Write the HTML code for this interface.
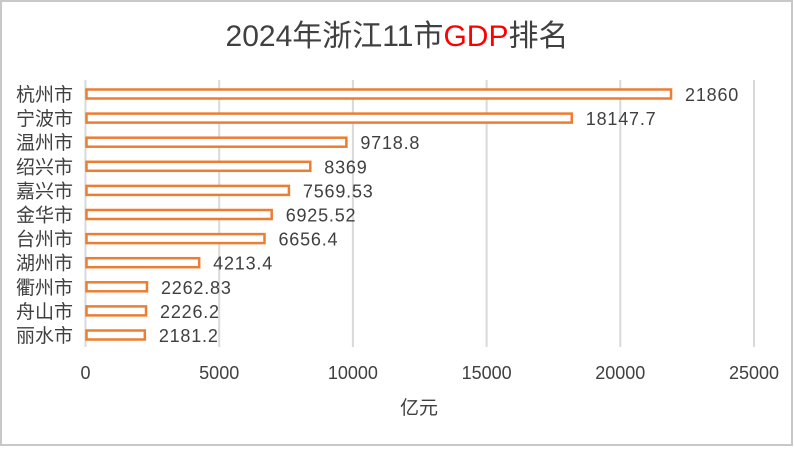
<!DOCTYPE html>
<html><head><meta charset="utf-8"><style>
html,body{margin:0;padding:0;background:#fff;}
svg{display:block;}
text{font-family:"Liberation Sans","Noto Sans CJK SC",sans-serif;fill:#404040;}
</style></head><body>
<svg width="794" height="459" viewBox="0 0 794 459">
<rect x="1" y="1" width="791" height="444" fill="#fff" stroke="#c8c8c8" stroke-width="2"/>
<text x="397" y="46" text-anchor="middle" font-size="30">2024年浙江11市<tspan style="fill:#ff0000">GDP</tspan>排名</text>
<g id="grid"></g>
<g id="bars"></g>
<text x="419" y="414" text-anchor="middle" font-size="19">亿元</text>
</svg>
<script>
const categories=["杭州市","宁波市","温州市","绍兴市","嘉兴市","金华市","台州市","湖州市","衢州市","舟山市","丽水市"];
const values=[21860,18147.7,9718.8,8369,7569.53,6925.52,6656.4,4213.4,2262.83,2226.2,2181.2];
const labels=["21860","18147.7","9718.8","8369","7569.53","6925.52","6656.4","4213.4","2262.83","2226.2","2181.2"];
const ticks=[0,5000,10000,15000,20000,25000];
const NS="http://www.w3.org/2000/svg";
const x0=85.5,x1=754,max=25000;
const xs=v=>x0+(x1-x0)*v/max;
const ys=i=>94+i*24.1;
const grid=document.getElementById('grid'),bars=document.getElementById('bars');
ticks.forEach(t=>{
 const l=document.createElementNS(NS,'line');
 l.setAttribute('x1',xs(t));l.setAttribute('x2',xs(t));l.setAttribute('y1',80);l.setAttribute('y2',347);
 l.setAttribute('stroke','#d9d9d9');l.setAttribute('stroke-width','2');
 
 
 grid.appendChild(l);
 const tx=document.createElementNS(NS,'text');
 tx.setAttribute('x',xs(t));tx.setAttribute('y',379);tx.setAttribute('text-anchor','middle');tx.setAttribute('font-size','18');
 tx.textContent=t;
 
 
 grid.appendChild(tx);
});
categories.forEach((c,i)=>{
 const y=ys(i);
 const r=document.createElementNS(NS,'rect');
 r.setAttribute('x',xs(0)+1);r.setAttribute('y',y-4.5);
 r.setAttribute('width',xs(values[i])-xs(0));r.setAttribute('height',9);
 r.setAttribute('fill','#fff');r.setAttribute('stroke','#ed7d31');r.setAttribute('stroke-width','2.5');
 
 
 bars.appendChild(r);
 const cl=document.createElementNS(NS,'text');
 cl.setAttribute('x',73);cl.setAttribute('y',y+7);cl.setAttribute('text-anchor','end');cl.setAttribute('font-size','19');
 cl.textContent=c;
 
 
 bars.appendChild(cl);
 const vl=document.createElementNS(NS,'text');
 vl.setAttribute('x',xs(values[i])+15);vl.setAttribute('y',y+7);vl.setAttribute('font-size','18');vl.setAttribute('letter-spacing','0.8');
 vl.textContent=labels[i];
 
 
 bars.appendChild(vl);
});
</script>
</body></html>
